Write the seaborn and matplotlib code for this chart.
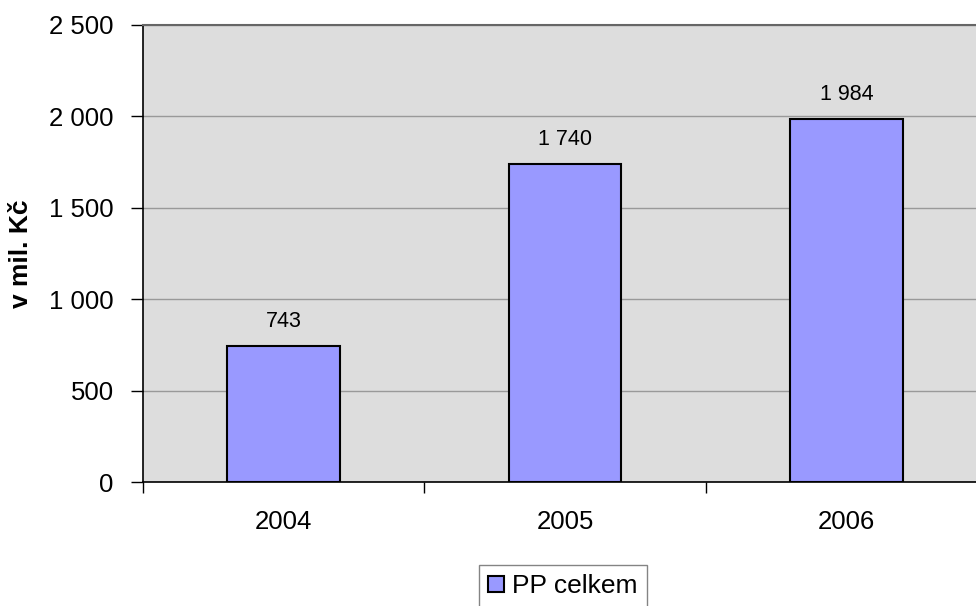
import matplotlib
matplotlib.use("Agg")
import matplotlib.pyplot as plt
import seaborn as sns
import pandas as pd
from matplotlib.ticker import FuncFormatter, FixedLocator

# data
years = ["2004", "2005", "2006"]
values = [743, 1740, 1984]
series_name = "PP celkem"
y_label = "v mil. Kč"
y_ticks = [0, 500, 1000, 1500, 2000, 2500]

df = pd.DataFrame({"rok": years, "hodnota": values})

sns.set_style("white")
plt.rcParams["font.family"] = ["Liberation Sans", "DejaVu Sans"]
plt.rcParams["text.color"] = "black"
plt.rcParams["xtick.color"] = "black"
plt.rcParams["ytick.color"] = "black"
plt.rcParams["axes.labelcolor"] = "black"

fig = plt.figure(figsize=(9.76, 6.06), dpi=100)
ax = fig.add_axes([143 / 976, 1 - 482 / 606, (987 - 143) / 976, (482 - 25) / 606])
ax.set_facecolor("#DDDDDD")

sns.barplot(data=df, x="rok", y="hodnota", color="#9999FF", width=0.4,
            edgecolor="black", linewidth=1.5, saturation=1, ax=ax,
            label=series_name, zorder=3)

ax.set_xlim(-0.5, 2.5)
ax.set_ylim(0, 2500)
ax.set_yticks(y_ticks)
ax.yaxis.set_major_formatter(FuncFormatter(lambda v, p: f"{int(v):,}".replace(",", " ")))
ax.grid(axis="y", color="#999999", linewidth=1, zorder=0)
ax.set_axisbelow(True)

# category boundary ticks
ax.xaxis.set_minor_locator(FixedLocator([-0.5, 0.5, 1.5, 2.5]))
ax.tick_params(axis="x", which="major", bottom=True, length=0, pad=20, labelsize=18.5)
ax.tick_params(axis="x", which="minor", bottom=True, length=8, width=1, color="black", direction="out")
ax.tick_params(axis="y", left=True, length=9, width=1, color="black", direction="out", pad=12, labelsize=18.5)

for s in ["left", "bottom"]:
    ax.spines[s].set_color("black")
    ax.spines[s].set_linewidth(1.2)
ax.spines["top"].set_color("#666666")
ax.spines["top"].set_linewidth(1.5)
ax.spines["right"].set_visible(False)

ax.set_xlabel("")
ax.set_ylabel(y_label, fontsize=19, fontweight="bold", labelpad=12)

# value labels
for i, v in enumerate(values):
    ax.annotate(f"{v:,}".replace(",", " "), (i, v), xytext=(0, 10),
                textcoords="offset points", ha="center", va="bottom", fontsize=15.5)

leg = ax.legend(loc="upper center", bbox_to_anchor=(563 / 976, 1 - 565 / 606),
                bbox_transform=fig.transFigure, fontsize=19, frameon=True,
                fancybox=False, handlelength=0.6, handleheight=0.6,
                handletextpad=0.3, borderpad=0.35, borderaxespad=0)
leg.get_frame().set_edgecolor("#666666")
leg.get_frame().set_linewidth(1)

fig.savefig("out.png", dpi=100)
